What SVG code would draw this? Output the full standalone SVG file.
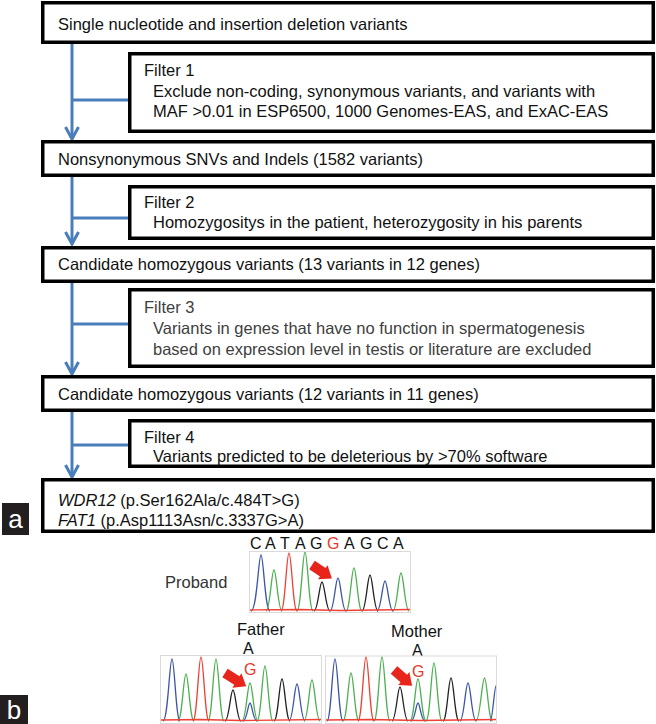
<svg xmlns="http://www.w3.org/2000/svg" width="656" height="724" viewBox="0 0 656 724">
<style>
.box{fill:#fff;stroke:#000;stroke-width:3.5}
.t{font-family:"Liberation Sans",Arial,sans-serif;font-size:16.5px;fill:#111}
.t3{fill:#404040}
.conn{fill:none;stroke:#4a7ebb;stroke-width:3}
.lbl{font-family:"Liberation Sans",Arial,sans-serif;font-size:26px;fill:#fff}
.seq{font-family:"Liberation Sans",Arial,sans-serif;font-size:16px;fill:#111}
.red{fill:#e53a2a}
.frame{fill:#fff;stroke:#dadada;stroke-width:1}
.pk{fill:none;stroke-width:1.3}
.b{stroke:#3d55a8}.g{stroke:#4cb050}.r{stroke:#ee4035}.k{stroke:#222}
.arrow{fill:#e8251b}
</style>
<defs>
<marker id="chev" markerUnits="userSpaceOnUse" viewBox="-16 -10 20 20" refX="0" refY="0" markerWidth="20" markerHeight="20" orient="auto" overflow="visible">
<path d="M-12,-6.5 L0,0 L-12,6.5" fill="none" stroke="#4a7ebb" stroke-width="3"/>
</marker>
<clipPath id="cp"><rect x="250" y="552" width="160" height="60"/></clipPath>
<clipPath id="cf"><rect x="161" y="656" width="160" height="68"/></clipPath>
<clipPath id="cm"><rect x="326" y="656" width="170" height="68"/></clipPath>
</defs>

<g id="connectors">
<path class="conn" d="M72,44 V139" marker-end="url(#chev)"/>
<path class="conn" d="M72,100 H129"/>
<path class="conn" d="M72,177 V244" marker-end="url(#chev)"/>
<path class="conn" d="M72,218 H129"/>
<path class="conn" d="M72,283 V374" marker-end="url(#chev)"/>
<path class="conn" d="M72,324 H129"/>
<path class="conn" d="M72,412 V477" marker-end="url(#chev)"/>
<path class="conn" d="M72,445 H129"/>
</g>

<g id="n1">
<rect class="box" x="42.75" y="2.75" width="610.5" height="39.5"/>
<text class="t" x="58" y="29.5">Single nucleotide and insertion deletion variants</text>
</g>
<g id="filter1">
<rect class="box" x="129.75" y="53.75" width="523.5" height="77.5"/>
<text class="t" x="144" y="76">Filter 1</text>
<text class="t" x="153" y="96.5">Exclude non-coding, synonymous variants, and variants with</text>
<text class="t" x="153" y="116.5">MAF &gt;0.01 in ESP6500, 1000 Genomes-EAS, and ExAC-EAS</text>
</g>
<g id="n2">
<rect class="box" x="42.75" y="141.75" width="610.5" height="33.5"/>
<text class="t" x="58" y="165">Nonsynonymous SNVs and Indels (1582 variants)</text>
</g>
<g id="filter2">
<rect class="box" x="129.75" y="186.75" width="523.5" height="51.5"/>
<text class="t" x="144" y="207.5">Filter 2</text>
<text class="t" x="153" y="228">Homozygositys in the patient, heterozygosity in his parents</text>
</g>
<g id="n3">
<rect class="box" x="42.75" y="247.75" width="610.5" height="33.5"/>
<text class="t" x="58" y="270">Candidate homozygous variants (13 variants in 12 genes)</text>
</g>
<g id="filter3">
<rect class="box" x="129.75" y="289.75" width="523.5" height="76.5"/>
<text class="t t3" x="144" y="313">Filter 3</text>
<text class="t t3" x="153" y="334">Variants in genes that have no function in spermatogenesis</text>
<text class="t t3" x="153" y="354.5">based on expression level in testis or literature are excluded</text>
</g>
<g id="n4">
<rect class="box" x="42.75" y="376.75" width="610.5" height="33.5"/>
<text class="t" x="58" y="399.5">Candidate homozygous variants (12 variants in 11 genes)</text>
</g>
<g id="filter4">
<rect class="box" x="129.75" y="420.75" width="523.5" height="45.5"/>
<text class="t" x="144" y="442.5">Filter 4</text>
<text class="t" x="153" y="461.5">Variants predicted to be deleterious by &gt;70% software</text>
</g>
<g id="n5">
<rect class="box" x="42.75" y="479.75" width="610.5" height="51.5"/>
<text class="t" x="58" y="506"><tspan font-style="italic">WDR12</tspan> (p.Ser162Ala/c.484T&gt;G)</text>
<text class="t" x="58" y="525.5"><tspan font-style="italic">FAT1</tspan> (p.Asp1113Asn/c.3337G&gt;A)</text>
</g>

<g id="label-a">
<rect x="2" y="503" width="27" height="32" fill="#231f20"/>
<text class="lbl" x="15.5" y="528" text-anchor="middle">a</text>
</g>
<g id="label-b">
<rect x="0" y="695" width="28" height="29" fill="#231f20"/>
<text class="lbl" x="14" y="719" text-anchor="middle">b</text>
</g>

<g id="proband">
<text class="seq" y="549"><tspan x="250">C</tspan><tspan x="265">A</tspan><tspan x="280">T</tspan><tspan x="295">A</tspan><tspan x="310">G</tspan><tspan x="327" class="red">G</tspan><tspan x="344">A</tspan><tspan x="360">G</tspan><tspan x="377">C</tspan><tspan x="393">A</tspan></text>
<text class="t" x="165" y="588" style="fill:#333">Proband</text>
<rect class="frame" x="249.5" y="551.5" width="161" height="61"/>
<g clip-path="url(#cp)">
<path class="pk b" d="M251,611 C257,611 258.5,555 261,555 C263.5,555 265,611 270,611"/>
<path class="pk g" d="M266,611 C270,611 271.5,570 274,570 C276.5,570 278,611 282,611"/>
<path class="pk r" d="M281,611 C285,611 286.5,553 289,553 C291.5,553 293,611 297,611"/>
<path class="pk g" d="M297,611 C301,611 302.5,552 305,552 C307.5,552 309,611 313,611"/>
<path class="pk k" d="M314,611 C318,611 319.5,582 322,582 C324.5,582 326,611 330,611"/>
<path class="pk b" d="M330,611 C334,611 335.5,578 338,578 C340.5,578 342,611 346,611"/>
<path class="pk g" d="M346,611 C350,611 351.5,568 354,568 C356.5,568 358,611 362,611"/>
<path class="pk k" d="M362,611 C366,611 367.5,575 370,575 C372.5,575 374,611 378,611"/>
<path class="pk b" d="M377,611 C381,611 382.5,581 385,581 C387.5,581 389,611 393,611"/>
<path class="pk g" d="M393,611 C397,611 398.5,573 401,573 C403.5,573 405,611 409,611"/>
<path class="pk r" d="M250,610 L300,609.5 L340,610.5 L410,609.5" stroke-width="0.8"/>
</g>
<polygon class="arrow" transform="translate(312,565) rotate(34)" points="0,-5 13,-5 13,-8.5 24,0 13,8.5 13,5 0,5"/>
</g>

<g id="father">
<text class="t" x="237" y="635">Father</text>
<text class="seq" x="243" y="654">A</text>
<rect class="frame" x="160.5" y="655.5" width="161" height="68"/>
<g clip-path="url(#cf)">
<path class="pk b" d="M163,721 C168,721 169.5,659 172,659 C174.5,659 176,721 180,721"/>
<path class="pk g" d="M178,721 C182,721 183.5,674 186,674 C188.5,674 190,721 194,721"/>
<path class="pk r" d="M193,721 C197,721 198.5,657 201,657 C203.5,657 205,721 209,721"/>
<path class="pk g" d="M208,721 C212,721 213.5,659 216,659 C218.5,659 220,721 224,721"/>
<path class="pk k" d="M225,721 C229,721 230.5,690 233,690 C235.5,690 237,721 241,721"/>
<path class="pk g" d="M242,721 C246,721 247.5,683 250,683 C252.5,683 254,721 258,721"/>
<path class="pk b" d="M243,721 C247,721 248,703 250,703 C252,703 253,721 257,721"/>
<path class="pk g" d="M257,721 C261,721 262.5,666 265,666 C267.5,666 269,721 273,721"/>
<path class="pk k" d="M274,721 C278,721 279.5,679 282,679 C284.5,679 286,721 290,721"/>
<path class="pk b" d="M289,721 C293,721 294.5,684 297,684 C299.5,684 301,721 305,721"/>
<path class="pk g" d="M304,721 C308,721 309.5,680 312,680 C314.5,680 316,721 320,721"/>
<path class="pk r" d="M161,720 L200,719.5 L240,720.5 L321,719.5" stroke-width="0.8"/>
</g>
<text class="seq red" x="244" y="675">G</text>
<polygon class="arrow" transform="translate(225,673) rotate(32)" points="0,-5 14,-5 14,-8.5 25,0 14,8.5 14,5 0,5"/>
</g>

<g id="mother">
<text class="t" x="391" y="636.5">Mother</text>
<text class="seq" x="412" y="656">A</text>
<rect class="frame" x="325.5" y="656" width="171" height="67.5"/>
<g clip-path="url(#cm)">
<path class="pk b" d="M327,721 C331,721 332.5,659 335,659 C337.5,659 339,721 343,721"/>
<path class="pk g" d="M343,721 C347,721 348.5,673 351,673 C353.5,673 355,721 359,721"/>
<path class="pk r" d="M358,721 C362,721 363.5,657 366,657 C368.5,657 370,721 374,721"/>
<path class="pk g" d="M374,721 C378,721 379.5,657 382,657 C384.5,657 386,721 390,721"/>
<path class="pk k" d="M392,721 C396,721 397.5,687 400,687 C402.5,687 404,721 408,721"/>
<path class="pk g" d="M410,721 C414,721 415.5,679 418,679 C420.5,679 422,721 426,721"/>
<path class="pk b" d="M411,721 C415,721 416,703 418,703 C420,703 421,721 425,721"/>
<path class="pk g" d="M426,721 C430,721 431.5,663 434,663 C436.5,663 438,721 442,721"/>
<path class="pk k" d="M443,721 C447,721 448.5,678 451,678 C453.5,678 455,721 459,721"/>
<path class="pk b" d="M460,721 C464,721 465.5,683 468,683 C470.5,683 472,721 476,721"/>
<path class="pk g" d="M476,721 C480,721 482,678 484.5,678 C487,678 488.5,721 492.5,721"/>
<path class="pk b" d="M490,721 C493,721 494,685 496.5,685"/>
<path class="pk r" d="M326,720 L370,719.5 L420,720.5 L496,719.5" stroke-width="0.8"/>
</g>
<text class="seq red" x="412" y="676.5">G</text>
<polygon class="arrow" transform="translate(394,670) rotate(41)" points="0,-5 13,-5 13,-8.5 24,0 13,8.5 13,5 0,5"/>
</g>
</svg>
